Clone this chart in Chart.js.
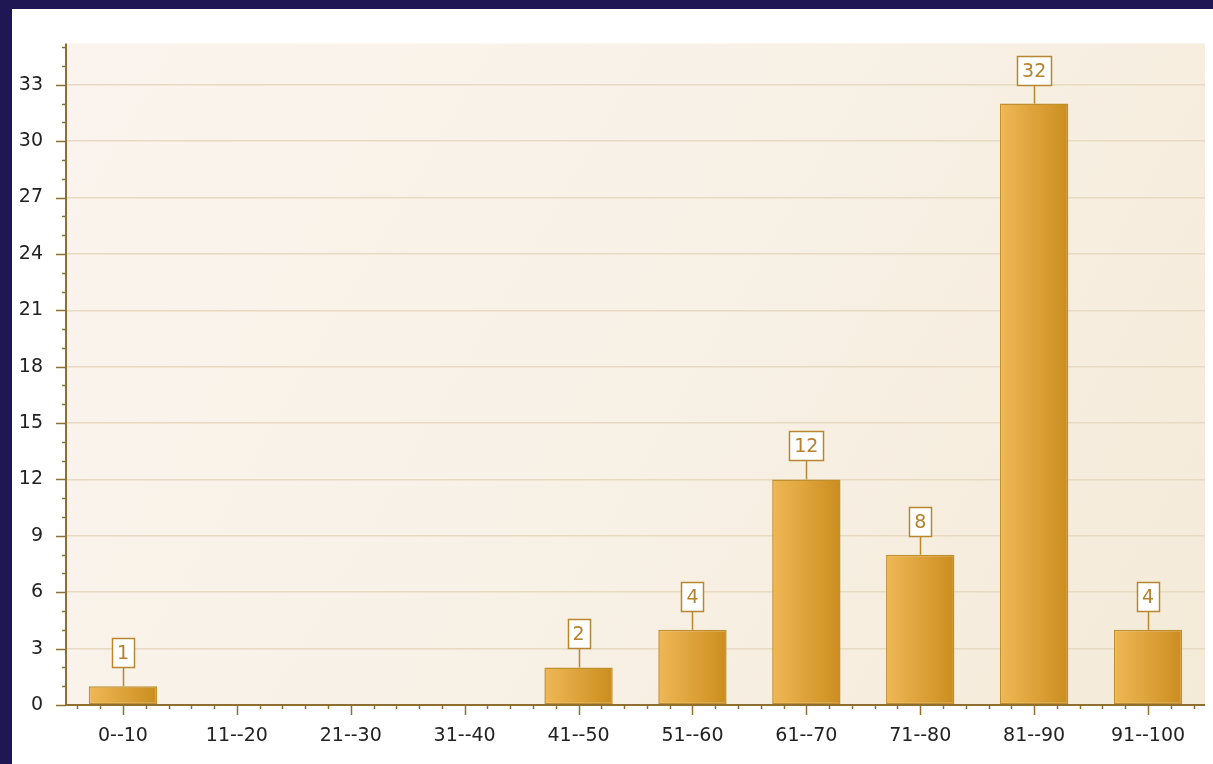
<!DOCTYPE html>
<html>
<head>
<meta charset="utf-8">
<script src="https://cdn.jsdelivr.net/npm/chart.js@4.4.0/dist/chart.umd.min.js"></script>
<style>
  html, body { margin: 0; padding: 0; background: #1f1753; width: 1213px; height: 764px; overflow: hidden; }
  #panel { position: absolute; left: 12px; top: 9px; width: 1201px; height: 755px; background: #ffffff; }
</style>
</head>
<body>
<div id="panel"><canvas id="myChart" width="1201" height="755"></canvas></div>
<script>
// data
var categories = ['0--10', '11--20', '21--30', '31--40', '41--50', '51--60', '61--70', '71--80', '81--90', '91--100'];
var counts = [1, 0, 0, 0, 2, 4, 12, 8, 32, 4];
var yMax = 35.2;
var yStep = 3;

var axisColor = '#8e6f30';
var labelColor = '#b5822a';
var fontFam = '"DejaVu Sans", Verdana, sans-serif';

// plot area background
var bgPlugin = {
    id: 'bg',
    beforeDraw: function (chart) {
        var a = chart.chartArea, c = chart.ctx;
        var g = c.createLinearGradient(a.left, a.top, a.right, a.bottom);
        g.addColorStop(0, '#fbf4ee');
        g.addColorStop(0.5, '#f8f1e6');
        g.addColorStop(1, '#f4ead8');
        c.save();
        c.fillStyle = g;
        c.fillRect(a.left, a.top, a.right - a.left, a.bottom - a.top);
        c.restore();
    }
};

// axis lines + major/minor tick marks
var axisPlugin = {
    id: 'axes',
    afterDatasetsDraw: function (chart) {
        var a = chart.chartArea, c = chart.ctx;
        var xs = chart.scales.x, ys = chart.scales.y;
        c.save();
        c.strokeStyle = axisColor;
        c.lineWidth = 2;
        c.beginPath();
        c.moveTo(a.left, a.top); c.lineTo(a.left, a.bottom);
        c.moveTo(a.left, a.bottom); c.lineTo(a.right, a.bottom);
        c.stroke();
        c.lineWidth = 1.5;
        c.beginPath();
        for (var v = 0; v <= Math.floor(yMax); v++) {
            var y = Math.round(ys.getPixelForValue(v)) + 0.5;
            var len = (v % yStep === 0) ? 10 : 4;
            c.moveTo(a.left - len, y); c.lineTo(a.left, y);
        }
        var cw = xs.width / categories.length;
        for (var i = 0; i < categories.length; i++) {
            var cx = xs.getPixelForValue(i);
            for (var k = -2; k <= 2; k++) {
                var x = Math.round(cx + k * cw / 5) + 0.5;
                var l = k === 0 ? 10 : 4;
                c.moveTo(x, a.bottom); c.lineTo(x, a.bottom + l);
            }
        }
        c.stroke();
        c.restore();
    }
};

// value boxes above bars
var valuePlugin = {
    id: 'values',
    afterDatasetsDraw: function (chart) {
        var c = chart.ctx;
        var meta = chart.getDatasetMeta(0);
        c.save();
        c.font = '19px ' + fontFam;
        c.textAlign = 'center';
        c.textBaseline = 'middle';
        meta.data.forEach(function (bar, i) {
            if (!counts[i]) return;
            var txt = String(counts[i]);
            var w = Math.round(c.measureText(txt).width) + 10;
            var h = 29;
            var bx = Math.round(bar.x - w / 2) + 0.5;
            var by = Math.round(bar.y - 19 - h) + 0.5;
            c.strokeStyle = '#b8862e';
            c.lineWidth = 1.5;
            c.beginPath();
            c.moveTo(Math.round(bar.x) + 0.5, bar.y);
            c.lineTo(Math.round(bar.x) + 0.5, by + h);
            c.stroke();
            c.fillStyle = '#ffffff';
            c.fillRect(bx, by, w, h);
            c.strokeRect(bx, by, w, h);
            c.fillStyle = labelColor;
            c.fillText(txt, bar.x, by + h / 2 + 1);
        });
        c.restore();
    }
};

var totalChart = new Chart('myChart', {
    type: 'bar',
    data: {
        labels: categories,
        datasets: [{
            data: counts,
            backgroundColor: function (ctx) {
                var ch = ctx.chart, xs = ch.scales.x;
                if (!ch.chartArea || !xs) return '#e0a83c';
                var cx = xs.getPixelForValue(ctx.dataIndex);
                var w = xs.width / categories.length * 0.6;
                var g = ch.ctx.createLinearGradient(cx - w / 2, 0, cx + w / 2, 0);
                g.addColorStop(0, '#efb856');
                g.addColorStop(1, '#cb8d1e');
                return g;
            },
            borderColor: '#c0902e',
            borderWidth: function (ctx) { return ctx.raw ? 1.5 : 0; },
            borderSkipped: false,
            barPercentage: 0.6,
            categoryPercentage: 1
        }]
    },
    options: {
        responsive: false,
        animation: false,
        devicePixelRatio: 1,
        layout: { padding: { top: 33, right: 8, left: 0, bottom: 0 } },
        plugins: { legend: { display: false }, tooltip: { enabled: false } },
        scales: {
            x: {
                afterFit: function (s) { s.height = 59; },
                grid: { display: false, drawTicks: false },
                border: { display: false },
                ticks: { color: '#222222', font: { family: fontFam, size: 19 }, padding: 20, maxRotation: 0, autoSkip: false }
            },
            y: {
                min: 0,
                max: yMax,
                afterFit: function (s) { s.width = 54; },
                grid: {
                    drawTicks: false,
                    lineWidth: 1.5,
                    color: function (c) { return c.tick.value === 0 ? 'rgba(0,0,0,0)' : '#e6dac2'; }
                },
                border: { display: false },
                ticks: { stepSize: yStep, includeBounds: false, color: '#222222', font: { family: fontFam, size: 19 }, padding: 23 }
            }
        }
    },
    plugins: [bgPlugin, axisPlugin, valuePlugin]
});
</script>
</body>
</html>
